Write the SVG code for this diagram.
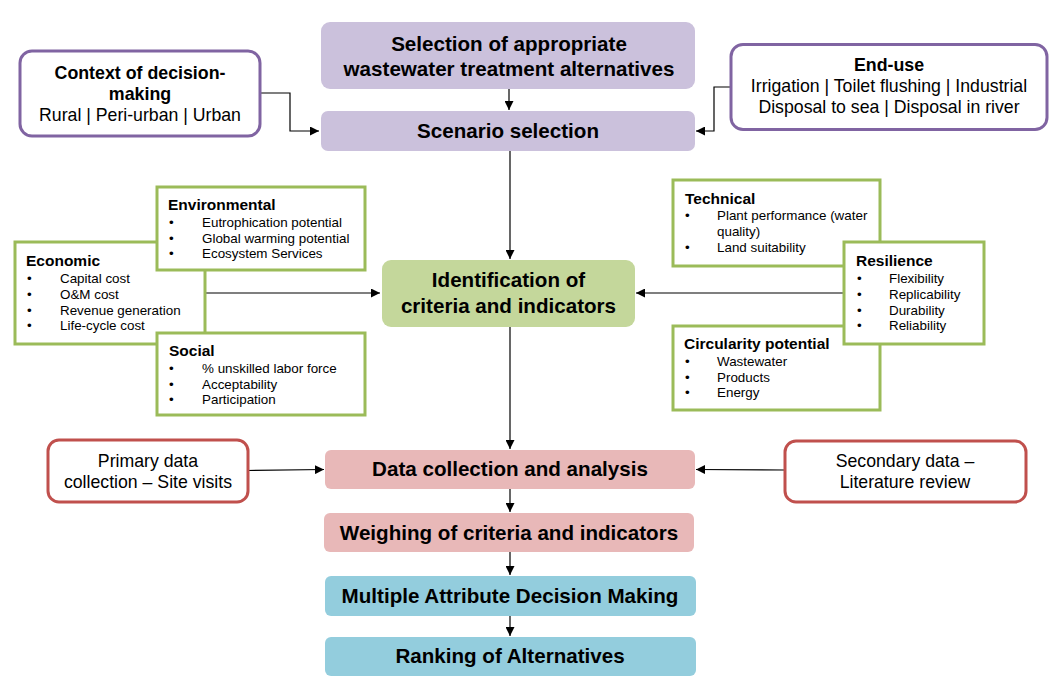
<svg xmlns="http://www.w3.org/2000/svg" width="1064" height="694" viewBox="0 0 1064 694">
<defs>
<marker id="ah" viewBox="0 0 10 10" refX="10" refY="5" markerWidth="9" markerHeight="9" markerUnits="userSpaceOnUse" orient="auto">
<path d="M0,0 L10,5 L0,10 z" fill="#000"/>
</marker>
<style>
text{font-family:"Liberation Sans",Arial,sans-serif;fill:#000}
.main{font-size:20.6px;font-weight:bold;text-anchor:middle}
.pur{fill:#CBC1DC}
.pink{fill:#E8B8B8}
.blue{fill:#93CDDD}
.grn{fill:#C4D79B}
.ctx{fill:#fff;stroke:#8064A2;stroke-width:3}
.red{fill:#fff;stroke:#C0504D;stroke-width:3}
.crit{fill:#fff;stroke:#9BBB59;stroke-width:3}
.h{font-size:15.5px;font-weight:bold}
.it{font-size:13.4px}
.ch{font-size:17.8px;font-weight:bold;text-anchor:middle}
.ct{font-size:17.7px;text-anchor:middle}
.dt{font-size:17.7px;text-anchor:middle}
.con{fill:none;stroke:#000;stroke-width:1.2}
</style>
</defs>
<rect width="1064" height="694" fill="#fff"/>
<g id="connectors">
<path class="con" d="M509,89 V110" marker-end="url(#ah)"/>
<path class="con" d="M260,93 H290 V131 H319" marker-end="url(#ah)"/>
<path class="con" d="M731,87 H714 V131 H696" marker-end="url(#ah)"/>
<path class="con" d="M510,151 V259" marker-end="url(#ah)"/>
<path class="con" d="M205,293 H380" marker-end="url(#ah)"/>
<path class="con" d="M844,293 H636" marker-end="url(#ah)"/>
<path class="con" d="M510,327 V449" marker-end="url(#ah)"/>
<path class="con" d="M247,470.5 L324,469.5" marker-end="url(#ah)"/>
<path class="con" d="M784,470 L696,469.5" marker-end="url(#ah)"/>
<path class="con" d="M510,489 V512" marker-end="url(#ah)"/>
<path class="con" d="M510,552 V575" marker-end="url(#ah)"/>
<path class="con" d="M510,616 V636" marker-end="url(#ah)"/>
</g>
<g id="selection">
<rect class="pur" x="321" y="22" width="374" height="67" rx="9"/>
<text class="main" x="509" y="50.5">Selection of appropriate</text>
<text class="main" x="509" y="76">wastewater treatment alternatives</text>
</g>
<g id="scenario">
<rect class="pur" x="321" y="111" width="374" height="40" rx="7"/>
<text class="main" x="508" y="137.5">Scenario selection</text>
</g>
<g id="context">
<rect class="ctx" x="20" y="51" width="240" height="85" rx="12"/>
<text class="ch" x="140" y="79">Context of decision-</text>
<text class="ch" x="140" y="99.5">making</text>
<text class="ct" x="140" y="121">Rural | Peri-urban | Urban</text>
</g>
<g id="enduse">
<rect class="ctx" x="731" y="44.5" width="316" height="85" rx="12"/>
<text class="ch" x="889" y="71">End-use</text>
<text class="ct" x="889" y="92">Irrigation | Toilet flushing | Industrial</text>
<text class="ct" x="889" y="113">Disposal to sea | Disposal in river</text>
</g>
<g id="identification">
<rect class="grn" x="382" y="260" width="253" height="67" rx="9"/>
<text class="main" x="508.5" y="287">Identification of</text>
<text class="main" x="508.5" y="312.5">criteria and indicators</text>
</g>
<g id="economic">
<rect class="crit" x="15" y="242" width="190" height="102"/>
<text class="h" x="26" y="266">Economic</text>
<g class="it">
<text x="27" y="283">•</text><text x="60" y="283">Capital cost</text>
<text x="27" y="299">•</text><text x="60" y="299">O&amp;M cost</text>
<text x="27" y="314.5">•</text><text x="60" y="314.5">Revenue generation</text>
<text x="27" y="330">•</text><text x="60" y="330">Life-cycle cost</text>
</g>
</g>
<g id="environmental">
<rect class="crit" x="157" y="187" width="208" height="83"/>
<text class="h" x="168" y="210">Environmental</text>
<g class="it">
<text x="169" y="227">•</text><text x="202" y="227">Eutrophication potential</text>
<text x="169" y="242.5">•</text><text x="202" y="242.5">Global warming potential</text>
<text x="169" y="258">•</text><text x="202" y="258">Ecosystem Services</text>
</g>
</g>
<g id="social">
<rect class="crit" x="157" y="333" width="208" height="82"/>
<text class="h" x="169" y="356">Social</text>
<g class="it">
<text x="169" y="373">•</text><text x="202" y="373">% unskilled labor force</text>
<text x="169" y="388.5">•</text><text x="202" y="388.5">Acceptability</text>
<text x="169" y="404">•</text><text x="202" y="404">Participation</text>
</g>
</g>
<g id="technical">
<rect class="crit" x="673" y="180" width="207" height="86"/>
<text class="h" x="685" y="204">Technical</text>
<g class="it">
<text x="685" y="220">•</text><text x="717" y="220">Plant performance (water</text>
<text x="717" y="236">quality)</text>
<text x="685" y="252">•</text><text x="717" y="252">Land suitability</text>
</g>
</g>
<g id="circularity">
<rect class="crit" x="673" y="326" width="207" height="84"/>
<text class="h" x="684" y="349">Circularity potential</text>
<g class="it">
<text x="685" y="366">•</text><text x="717" y="366">Wastewater</text>
<text x="685" y="381.5">•</text><text x="717" y="381.5">Products</text>
<text x="685" y="397">•</text><text x="717" y="397">Energy</text>
</g>
</g>
<g id="resilience">
<rect class="crit" x="844" y="242" width="140" height="102"/>
<text class="h" x="856" y="266">Resilience</text>
<g class="it">
<text x="857" y="283">•</text><text x="889" y="283">Flexibility</text>
<text x="857" y="299">•</text><text x="889" y="299">Replicability</text>
<text x="857" y="314.5">•</text><text x="889" y="314.5">Durability</text>
<text x="857" y="330">•</text><text x="889" y="330">Reliability</text>
</g>
</g>
<g id="primary">
<rect class="red" x="48" y="440" width="200" height="62" rx="11"/>
<text class="dt" x="148" y="466.5">Primary data</text>
<text class="dt" x="148" y="488">collection – Site visits</text>
</g>
<g id="secondary">
<rect class="red" x="785" y="441" width="241" height="61" rx="11"/>
<text class="dt" x="905" y="466.5">Secondary data –</text>
<text class="dt" x="905" y="488">Literature review</text>
</g>
<g id="datacollection">
<rect class="pink" x="325" y="450" width="370" height="39" rx="6"/>
<text class="main" x="510" y="476">Data collection and analysis</text>
</g>
<g id="weighing">
<rect class="pink" x="324" y="513" width="370" height="39" rx="6"/>
<text class="main" x="509" y="539.5">Weighing of criteria and indicators</text>
</g>
<g id="madm">
<rect class="blue" x="325" y="576" width="371" height="40" rx="6"/>
<text class="main" x="510" y="602.5">Multiple Attribute Decision Making</text>
</g>
<g id="ranking">
<rect class="blue" x="325" y="637" width="371" height="39" rx="6"/>
<text class="main" x="510" y="663">Ranking of Alternatives</text>
</g>
</svg>
